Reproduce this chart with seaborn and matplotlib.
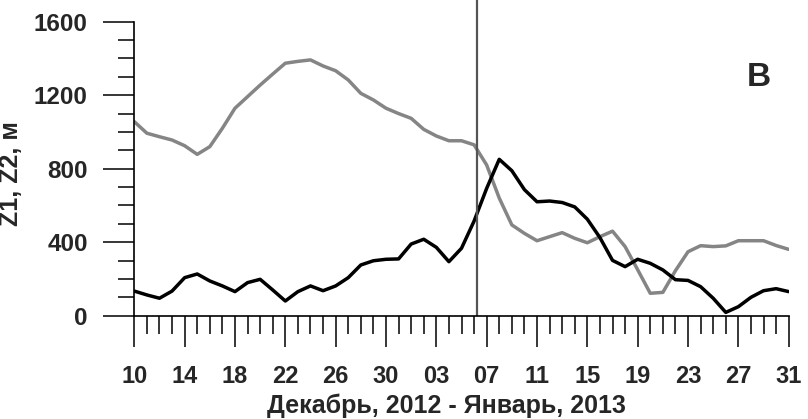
import numpy as np
import pandas as pd
import matplotlib
matplotlib.use("Agg")
import matplotlib.pyplot as plt
import matplotlib.dates as mdates
import seaborn as sns

# Daily series, 10 Dec 2012 - 31 Jan 2013
dates = pd.date_range("2012-12-10", "2013-01-31", freq="D")
z1 = [134, 113, 95, 134, 207, 227, 189, 162, 131, 180, 198, 140, 80, 131,
      162, 136, 162, 207, 276, 299, 307, 309, 390, 416, 372, 294, 367, 515,
      693, 851, 789, 686, 620, 624, 616, 592, 525, 425, 301, 267, 307, 285,
      249, 196, 192, 158, 95, 18, 49, 100, 136, 147, 131]
z2 = [1056, 993, 974, 956, 925, 878, 920, 1020, 1129, 1192, 1255, 1315, 1374,
      1384, 1392, 1359, 1333, 1283, 1210, 1174, 1129, 1100, 1074, 1014, 978,
      952, 952, 930, 820, 640, 494, 448, 408, 430, 452, 421, 397, 430, 460,
      376, 250, 122, 127, 245, 348, 381, 376, 380, 408, 408, 408, 382, 361]

tick_dates = pd.date_range("2012-12-10", periods=14, freq="4D")
tick_labels = ["10", "14", "18", "22", "26", "30", "03", "07", "11", "15",
               "19", "23", "27", "31"]
y_major = [0, 400, 800, 1200, 1600]
event = pd.Timestamp("2013-01-06 06:00")

sns.set_style("ticks")
plt.rcParams["font.family"] = ["Liberation Sans", "DejaVu Sans"]
plt.rcParams["font.weight"] = "bold"

W, H = 808, 419
fig = plt.figure(figsize=(W / 100, H / 100), dpi=100)
x0, x1, y0 = 134.3, 788.7, 315.7
ax = fig.add_axes([x0 / W, (H - y0) / H, (x1 - x0) / W, y0 / H])

df = pd.DataFrame({"date": dates, "Z1": z1, "Z2": z2})
sns.lineplot(data=df, x="date", y="Z2", color="#858585", lw=2.5, ax=ax)
sns.lineplot(data=df, x="date", y="Z1", color="black", lw=2.5, ax=ax)
ax.axvline(event, color="#555555", lw=1.6)

ax.set_xlim(dates[0], dates[-1])
ax.set_ylim(0, 1718)
for s in ("top", "right"):
    ax.spines[s].set_visible(False)
ax.spines["left"].set_bounds(0, 1600)
for s in ("left", "bottom"):
    ax.spines[s].set_linewidth(1.2)
    ax.spines[s].set_color("black")

ax.set_yticks(y_major)
ax.set_yticks(np.arange(0, 1601, 100), minor=True)
ax.set_xticks(tick_dates)
ax.set_xticklabels(tick_labels, fontsize=17, fontweight="bold")
ax.xaxis.set_minor_locator(mdates.DayLocator())

ax.tick_params(which="major", length=22.5, width=1.1, color="black",
               direction="out")
ax.tick_params(which="minor", width=1.1, color="black", direction="out")
ax.tick_params(axis="y", which="minor", length=11.5)
ax.tick_params(axis="x", which="minor", length=13)
ax.tick_params(axis="y", which="major", pad=11, labelsize=17.5)
ax.tick_params(axis="x", which="major", pad=13)
for lab in ax.get_yticklabels():
    lab.set_fontweight("bold")

ax.set_xlabel("Декабрь, 2012 - Январь, 2013", fontsize=18, fontweight="bold")
ax.xaxis.set_label_coords(0.477, -0.247)
ax.set_ylabel("Z1, Z2, м", fontsize=18, fontweight="bold")
ax.yaxis.set_label_coords(-0.1696, 0.45)

ax.text(0.954, 0.7276, "B", transform=ax.transAxes, fontsize=24,
        fontweight="bold", ha="center", va="baseline")

fig.savefig("out.png", dpi=100)
